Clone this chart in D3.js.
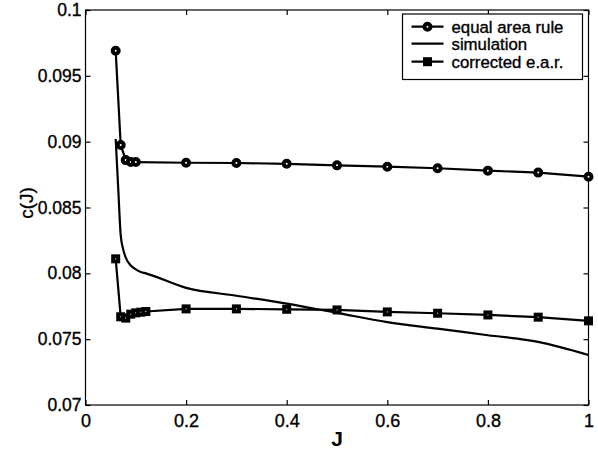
<!DOCTYPE html>
<html><head><meta charset="utf-8">
<script src="https://cdn.jsdelivr.net/npm/d3@7"></script>
<style>body{margin:0;background:#fff}svg{display:block}text{font-family:"Liberation Sans",Arial,Helvetica,sans-serif;stroke:#000;stroke-width:0.35px;fill:#000}</style>
</head><body><svg id="c" width="598" height="451"></svg>
<script>
const earJ   = [0.06,0.07,0.08,0.09,0.1,0.2,0.3,0.4,0.5,0.6,0.7,0.8,0.9,1.0];
const earC   = [0.0969,0.08975,0.0886,0.08845,0.08845,0.0884,0.08838,0.08832,0.0882,0.0881,0.08798,0.0878,0.08765,0.08734];
const simJ   = [0.06,0.065,0.07,0.075,0.08,0.09,0.1,0.11,0.12,0.2,0.3,0.4,0.5,0.6,0.7,0.8,0.9,1.0];
const simC   = [0.0902,0.0865,0.0829,0.0818,0.0812,0.0806,0.0803,0.0801,0.0800,0.0789,0.0783,0.0777,0.0770,0.0763,0.0758,0.0753,0.0748,0.0738];
const corJ   = [0.06,0.07,0.08,0.09,0.1,0.11,0.12,0.2,0.3,0.4,0.5,0.6,0.7,0.8,0.9,1.0];
const corC   = [0.0811,0.0767,0.0766,0.0769,0.0770,0.07705,0.0771,0.0773,0.0773,0.07727,0.07722,0.07707,0.07697,0.07684,0.07667,0.07639];
const xTicks = [0,0.2,0.4,0.6,0.8,1];
const yTicks = [0.07,0.075,0.08,0.085,0.09,0.095,0.1];
const legendLabels = ["equal area rule","simulation","corrected e.a.r."];

const svg = d3.select("#c");
const L=85.5, R=588.5, T=10, B=405;
const x = d3.scaleLinear().domain([0,1]).range([L,R]);
const y = d3.scaleLinear().domain([0.07,0.1]).range([B,T]);
const fmt = d => d===0?"0":d===1?"1":String(+d.toFixed(3));

svg.append("rect").attr("x",L).attr("y",T).attr("width",R-L).attr("height",B-T)
  .attr("fill","none").attr("stroke","#000").attr("stroke-width",1.2);

const ax = d3.axisBottom(x).tickValues(xTicks).tickFormat(fmt).tickSizeInner(-5).tickSizeOuter(0).tickPadding(9);
const ay = d3.axisLeft(y).tickValues(yTicks).tickFormat(fmt).tickSizeInner(-5).tickSizeOuter(0).tickPadding(4);
const gx = svg.append("g").attr("transform",`translate(0,${B})`).call(ax);
const gy = svg.append("g").attr("transform",`translate(${L},0)`).call(ay);
svg.append("g").attr("transform",`translate(0,${T})`).call(d3.axisTop(x).tickValues(xTicks).tickFormat("").tickSizeInner(-5).tickSizeOuter(0));
svg.append("g").attr("transform",`translate(${R},0)`).call(d3.axisRight(y).tickValues(yTicks).tickFormat("").tickSizeInner(-5).tickSizeOuter(0));
svg.selectAll(".domain").remove();
svg.selectAll(".tick line").attr("stroke","#000").attr("stroke-width",1.2);
gx.selectAll("text").attr("font-size",18).attr("fill","#000");
gy.selectAll("text").attr("font-size",17.5).attr("fill","#000");

svg.append("text").attr("x",(L+R)/2).attr("y",446).attr("text-anchor","middle")
  .attr("font-size",21).attr("font-weight","bold").style("stroke-width","0").text("J");
svg.append("text").attr("transform",`translate(33,203) rotate(-90)`).attr("text-anchor","middle")
  .attr("font-size",19).text("c(J)");

const line = d3.line().x(d=>x(d[0])).y(d=>y(d[1]));
const ear = earJ.map((j,i)=>[j,earC[i]]);
const sim = simJ.map((j,i)=>[j,simC[i]]);
const cor = corJ.map((j,i)=>[j,corC[i]]);
const simLine = d3.line().x(d=>x(d[0])).y(d=>y(d[1])).curve(d3.curveMonotoneX);

svg.append("path").attr("d",simLine(sim)).attr("fill","none").attr("stroke","#000").attr("stroke-width",2.2);
svg.append("path").attr("d",line(ear)).attr("fill","none").attr("stroke","#000").attr("stroke-width",2.2);
svg.append("path").attr("d",line(cor)).attr("fill","none").attr("stroke","#000").attr("stroke-width",2.2);

function circ(g,cx,cy){g.append("circle").attr("cx",cx).attr("cy",cy).attr("r",3).attr("fill","#fff").attr("stroke","#000").attr("stroke-width",4);}
function sq(g,cx,cy){g.append("rect").attr("x",cx-2.5).attr("y",cy-2.5).attr("width",5).attr("height",5).attr("fill","#fff").attr("stroke","#000").attr("stroke-width",4);}
const mg = svg.append("g");
ear.forEach(d=>circ(mg,x(d[0]),y(d[1])));
cor.forEach(d=>sq(mg,x(d[0]),y(d[1])));

const lg = svg.append("g");
lg.append("rect").attr("x",402.5).attr("y",14).attr("width",180).attr("height",65.5)
  .attr("fill","#fff").attr("stroke","#000").attr("stroke-width",1.2);
const rows=[26.7,43.7,61.7];
rows.forEach((ry,i)=>{
  lg.append("line").attr("x1",411.5).attr("x2",443.5).attr("y1",ry).attr("y2",ry).attr("stroke","#000").attr("stroke-width",2.2);
  if(i===0) circ(lg,427.5,ry);
  if(i===2) sq(lg,427.5,ry);
  lg.append("text").attr("x",451.5).attr("y",ry+6).attr("font-size",16.8).text(legendLabels[i]);
});
</script></body></html>
